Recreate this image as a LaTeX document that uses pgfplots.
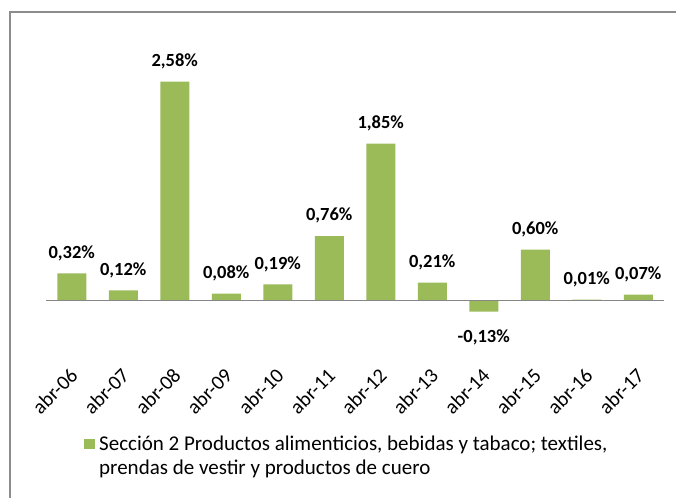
\documentclass[border=0pt]{standalone}
\usepackage{fontspec}
\setmainfont{Carlito}
\usepackage{pgfplots}
\pgfplotsset{compat=1.18}
\definecolor{barcol}{HTML}{9BBB59}
\definecolor{axgray}{HTML}{868686}
\definecolor{framegray}{HTML}{8C8C8C}
\begin{document}
\begin{tikzpicture}[x=1pt,y=1pt]
\useasboundingbox (0,0) rectangle (676,-497);
\draw[framegray, line width=1.5pt] (10,-500) -- (10,-12) -- (680,-12);
\begin{axis}[
  at={(71.75pt,-300.5pt)}, anchor=origin,
  x=51.5pt, y=84.8pt,
  xmin=-0.5, xmax=11.5, ymin=-0.749, ymax=2.8,
  clip=false,
  axis line style={draw=none},
  ytick=\empty,
  xtick={0,...,11},
  xticklabels={abr-06,abr-07,abr-08,abr-09,abr-10,abr-11,abr-12,abr-13,abr-14,abr-15,abr-16,abr-17},
  major tick length=0pt,
  xticklabel style={rotate=45, anchor=north east, inner sep=0pt, font=\fontsize{20.5}{24}\selectfont, xshift=-4pt},
  ybar, bar width=29pt,
  visualization depends on={y \as \rawy},
  nodes near coords={\pgfmathprintnumber[fixed,fixed zerofill,precision=2,use comma,assume math mode=true]{\pgfplotspointmeta}\%},
  nodes near coords align={vertical},
  every node near coord/.append style={font=\fontsize{18.5}{20}\selectfont\bfseries, inner sep=12.4pt, yshift={ifthenelse(\rawy<0,-6,0)}, text=black},
  legend style={at={(0.0615,-0.2316)}, anchor=north west, draw=none, fill=none, inner sep=0pt,
     font=\fontsize{21}{21}\selectfont, row sep=3.5pt, column sep=2pt, cells={anchor=west}},
  legend image code/.code={\fill[barcol] (0pt,-5.5pt) rectangle (11pt,4.5pt);},
]
\addplot[fill=barcol, draw=none] coordinates {
 (0,0.32) (1,0.12) (2,2.58) (3,0.08) (4,0.19) (5,0.76)
 (6,1.85) (7,0.21) (8,-0.13) (9,0.60) (10,0.01) (11,0.07)};
\addlegendentry{Sección 2 Productos alimenticios, bebidas y tabaco; textiles,}
\addlegendimage{empty legend}
\addlegendentry{prendas de vestir y productos de cuero}
\draw[axgray, line width=1.5pt] (axis cs:-0.5,0) -- (axis cs:11.5,0);
\end{axis}
\end{tikzpicture}
\end{document}
